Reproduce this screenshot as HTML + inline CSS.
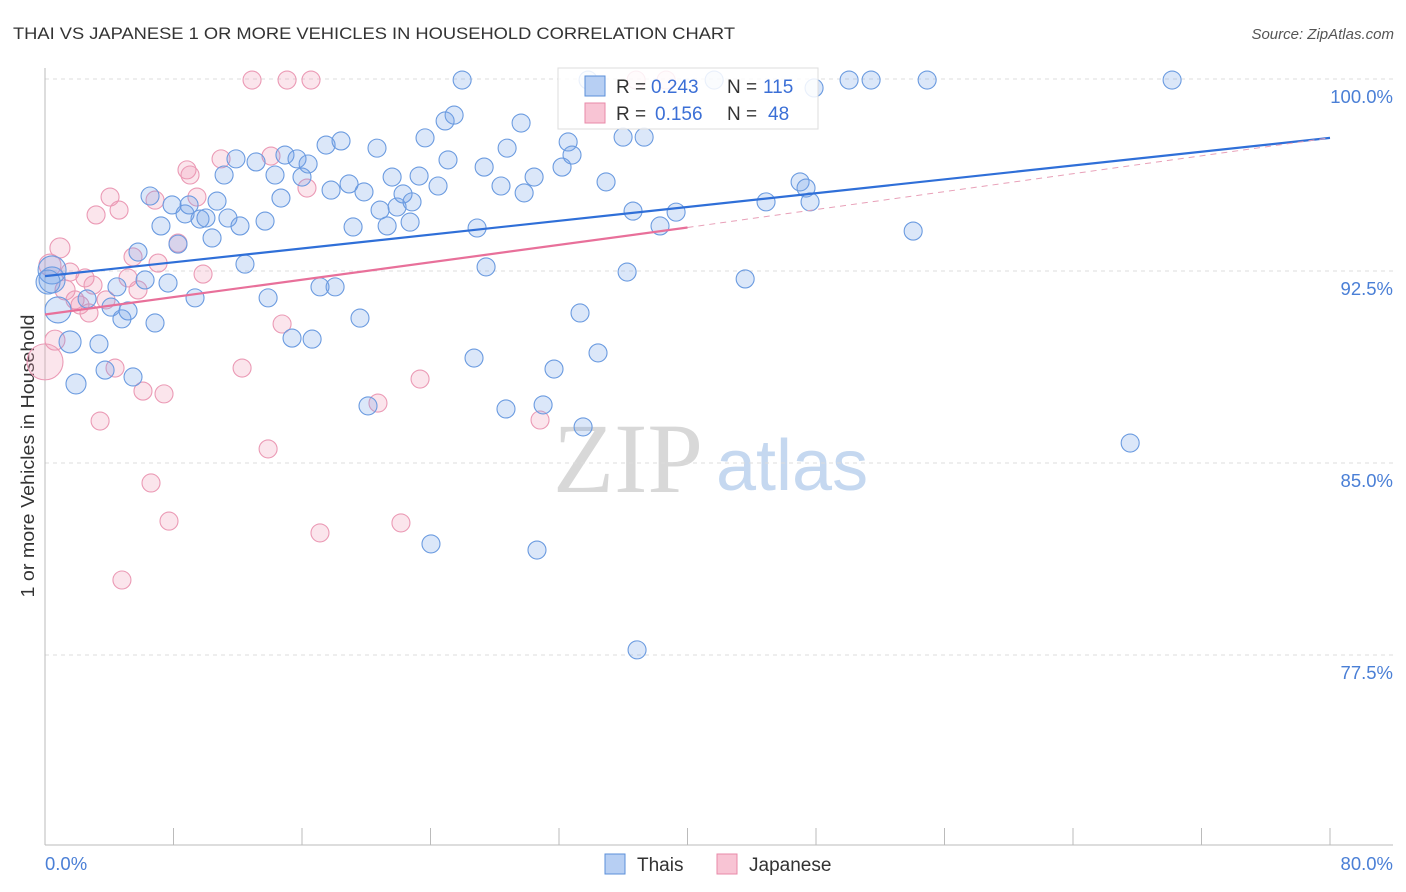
<!DOCTYPE html>
<html><head><meta charset="utf-8"><style>
body{margin:0;background:#fff;font-family:"Liberation Sans",sans-serif;}
svg{display:block}
</style></head><body>
<svg id="chart" width="1406" height="892">
<text x="13" y="39" font-size="17" fill="#333" textLength="722" lengthAdjust="spacingAndGlyphs">THAI VS JAPANESE 1 OR MORE VEHICLES IN HOUSEHOLD CORRELATION CHART</text>
<text x="1394" y="39" font-size="15" fill="#555" font-style="italic" text-anchor="end">Source: ZipAtlas.com</text>
<text transform="translate(34,456) rotate(-90)" font-size="18" fill="#333" text-anchor="middle" textLength="283" lengthAdjust="spacingAndGlyphs">1 or more Vehicles in Household</text>
<g>
<text x="553" y="492" font-size="100" font-family="Liberation Serif,serif" fill="#d8d8d8">ZIP</text>
<text x="716" y="490" font-size="72" fill="#c5d8f0">atlas</text>
</g>
<g id="grid"></g>
<g id="marks"></g>
<g id="lines"></g>
<g>
<rect x="558" y="68" width="260" height="61" fill="#fff" fill-opacity="0.85" stroke="#ddd"/>
<rect x="585" y="76" width="20" height="20" fill="#b7cff3" stroke="#5b8fd9"/>
<rect x="585" y="103" width="20" height="20" fill="#f8c4d4" stroke="#e88aa8"/>
<text y="93" font-size="19" fill="#333"><tspan x="616">R =</tspan><tspan x="651" fill="#3b6fd6">0.243</tspan><tspan x="727">N =</tspan><tspan x="763" fill="#3b6fd6">115</tspan></text>
<text y="120" font-size="19" fill="#333"><tspan x="616">R =</tspan><tspan x="655" fill="#3b6fd6">0.156</tspan><tspan x="727">N =</tspan><tspan x="768" fill="#3b6fd6">48</tspan></text>
</g>
<g>
<rect x="605" y="854" width="20" height="20" fill="#b7cff3" stroke="#5b8fd9"/>
<text x="637" y="871" font-size="19" fill="#333">Thais</text>
<rect x="717" y="854" width="20" height="20" fill="#f8c4d4" stroke="#e88aa8"/>
<text x="749" y="871" font-size="19" fill="#333">Japanese</text>
</g>
</svg>
<script>
const yTicks=[100,92.5,85,77.5];
const yTickLabels=["100.0%","92.5%","85.0%","77.5%"];
const xTicks=[0,8,16,24,32,40,48,56,64,72,80];
const thaiX=[0.44,0.81,1.56,1.93,2.62,3.36,3.74,4.11,4.48,4.79,5.17,5.48,5.79,6.23,6.54,6.85,7.22,7.66,7.91,8.28,8.72,8.97,9.34,9.65,10.02,10.40,10.71,11.15,11.39,11.89,12.14,12.45,13.14,13.70,13.89,14.32,14.69,14.94,15.38,15.69,16.00,16.38,16.63,17.12,17.50,17.81,18.06,18.43,18.93,19.18,19.61,19.86,20.11,20.67,20.86,21.30,21.61,21.92,22.29,22.73,22.85,23.29,23.66,24.03,24.47,24.91,25.09,25.47,25.97,26.71,26.90,27.34,27.46,28.39,28.70,28.77,29.64,29.83,30.45,30.63,31.01,31.69,32.19,32.57,32.81,33.31,33.50,33.81,34.43,34.93,35.99,36.24,36.61,36.86,37.30,38.29,39.29,41.66,43.59,44.89,47.01,47.38,47.63,47.88,50.06,51.43,54.05,54.92,67.56,70.17,0.44,0.19];
const thaiY=[92.15,90.98,89.73,88.09,91.41,89.65,88.63,91.09,91.88,90.63,90.94,88.36,93.24,92.15,95.43,90.47,94.26,92.03,95.08,93.55,94.73,95.08,91.45,94.53,94.57,93.79,95.23,96.25,94.57,96.88,94.26,92.77,96.76,94.45,91.45,96.25,95.35,97.03,89.88,96.88,96.17,96.68,89.84,91.88,97.42,95.66,91.88,97.58,95.90,94.22,90.66,95.59,87.23,97.30,94.88,94.26,96.17,95.00,95.51,94.41,95.20,96.21,97.70,81.84,95.82,98.36,96.84,98.59,99.96,89.10,94.18,96.56,92.66,95.82,87.11,97.30,98.28,95.55,96.17,81.60,87.27,88.67,96.56,97.54,97.03,90.86,86.41,99.96,89.30,95.98,97.73,92.46,94.84,77.70,97.73,94.26,94.80,99.96,92.19,95.20,95.98,95.74,95.20,99.65,99.96,99.96,94.06,99.96,85.78,99.96,92.54,92.07];
const thaiSize=[13,13,11,10,9,9,9,9,9,9,9,9,9,9,9,9,9,9,9,9,9,9,9,9,9,9,9,9,9,9,9,9,9,9,9,9,9,9,9,9,9,9,9,9,9,9,9,9,9,9,9,9,9,9,9,9,9,9,9,9,9,9,9,9,9,9,9,9,9,9,9,9,9,9,9,9,9,9,9,9,9,9,9,9,9,9,9,9,9,9,9,9,9,9,9,9,9,9,9,9,9,9,9,9,9,9,9,9,9,9,14,12];
const japX=[0,0.31,0.62,0.93,1.25,1.56,1.87,2.18,2.49,2.74,2.99,3.18,3.43,3.80,4.05,4.36,4.61,4.79,5.17,5.48,5.79,6.10,6.60,6.85,7.04,7.41,7.72,8.28,8.84,9.03,9.46,9.84,10.96,12.27,12.89,13.89,14.07,14.76,15.07,16.31,16.56,17.12,20.73,22.16,23.35,30.82,36.80,38.67];
const japY=[88.95,92.73,89.80,93.40,91.76,92.46,91.37,91.17,92.23,90.86,91.95,94.69,86.64,91.37,95.39,88.71,94.88,80.43,92.23,93.05,91.76,87.81,84.22,95.27,92.81,87.70,82.73,93.59,96.45,96.25,95.39,92.38,96.88,88.71,99.96,85.55,96.99,90.43,99.96,95.74,99.96,82.27,87.34,82.66,88.28,86.68,99.96,99.96];
const japSize=[18,11,10,10,10,9,9,9,9,9,9,9,9,9,9,9,9,9,9,9,9,9,9,9,9,9,9,9,9,9,9,9,9,9,9,9,9,9,9,9,9,9,9,9,9,9,9,9];
const thaiTrend=[[0,92.3],[80,97.7]];
const japTrend=[[0,90.8],[40,94.2],[80,97.7]];
const NS="http://www.w3.org/2000/svg";
const X=v=>45+v/80*1285;
const Y=v=>79+(100-v)/7.5*192;
function mk(tag,attrs,parent){const e=document.createElementNS(NS,tag);for(const k in attrs)e.setAttribute(k,attrs[k]);parent.appendChild(e);return e;}
const grid=document.getElementById('grid');
yTicks.forEach((t,i)=>{
 const l=mk('line',{x1:45,x2:1393,y1:Y(t),y2:Y(t),stroke:'#ddd','stroke-dasharray':'4,4'},grid);
 
 
 const tx=mk('text',{x:1393,y:Y(t)+24,'font-size':18.5,fill:'#4a7fd6','text-anchor':'end'},grid);
 tx.textContent=yTickLabels[i];
 
 
});
const ax=mk('line',{x1:45,x2:45,y1:68,y2:845,stroke:'#bbb'},grid);


const bx=mk('line',{x1:45,x2:1393,y1:845,y2:845,stroke:'#bbb'},grid);


xTicks.forEach(t=>{
 const l=mk('line',{x1:X(t),x2:X(t),y1:828,y2:845,stroke:'#bbb'},grid);
 
 
});
const x0=mk('text',{x:45,y:870,'font-size':18.5,fill:'#4a7fd6'},grid);x0.textContent='0.0%';


const x1=mk('text',{x:1393,y:870,'font-size':18.5,fill:'#4a7fd6','text-anchor':'end'},grid);x1.textContent='80.0%';


const marks=document.getElementById('marks');
japX.forEach((v,i)=>{
 const c=mk('circle',{cx:X(v),cy:Y(japY[i]),r:japSize[i],fill:'rgba(240,150,180,0.25)',stroke:'#eb9ab5','stroke-width':1.1},marks);
 
 
});
thaiX.forEach((v,i)=>{
 const c=mk('circle',{cx:X(v),cy:Y(thaiY[i]),r:thaiSize[i],fill:'rgba(110,160,230,0.25)',stroke:'#6b9be0','stroke-width':1.1},marks);
 
 
});
const lines=document.getElementById('lines');
const tl=mk('line',{x1:X(thaiTrend[0][0]),y1:Y(thaiTrend[0][1]),x2:X(thaiTrend[1][0]),y2:Y(thaiTrend[1][1]),stroke:'#2f6fd8','stroke-width':2.2},lines);


const jl=mk('line',{x1:X(japTrend[0][0]),y1:Y(japTrend[0][1]),x2:X(japTrend[1][0]),y2:Y(japTrend[1][1]),stroke:'#e8709a','stroke-width':2.2},lines);


const jd=mk('line',{x1:X(japTrend[1][0]),y1:Y(japTrend[1][1]),x2:X(japTrend[2][0]),y2:Y(japTrend[2][1]),stroke:'#e8a0b8','stroke-width':1,'stroke-dasharray':'6,5'},lines);


</script>
</body></html>
